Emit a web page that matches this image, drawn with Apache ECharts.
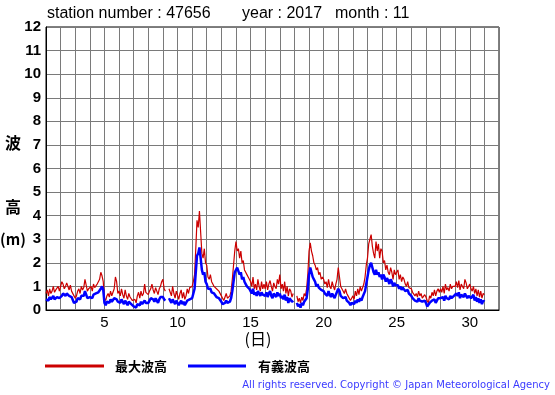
<!DOCTYPE html>
<html><head><meta charset="utf-8">
<script src="https://cdn.jsdelivr.net/npm/echarts@6/dist/echarts.min.js"></script>
<style>html,body{margin:0;padding:0;background:#fff}#c{width:555px;height:395px}</style>
</head><body><div id="c"></div>
<script>
// 2-hourly samples starting Nov 1 00:00 (x = day of month)
const startDay = 1;
const samplesPerDay = 12;
const maxWave = [
0.7,0.85,0.6,0.9,0.7,0.8,1.0,0.75,0.85,0.9,1.0,0.8,
1.0,1.2,1.1,0.9,1.0,1.15,1.0,0.85,1.05,0.8,0.75,0.6,
0.5,0.6,0.8,0.9,0.7,1.0,0.85,0.95,1.3,1.05,0.8,0.9,
0.9,1.0,0.8,1.1,0.95,1.0,1.1,1.2,1.3,1.6,1.45,1.2,
0.5,0.4,0.6,0.7,0.55,0.8,0.6,0.75,0.9,1.4,1.2,0.7,
0.8,0.6,0.9,0.65,0.5,0.85,0.6,0.45,0.7,0.55,0.5,0.4,
0.35,0.45,0.3,0.6,0.75,0.5,0.8,0.6,0.7,1.1,0.75,0.7,
0.65,0.8,0.9,1.1,0.85,0.7,0.95,0.8,0.65,0.9,1.0,1.2,
1.3,0.9,0.8,null,null,0.9,0.75,0.6,1.0,0.7,0.5,0.8,
0.8,0.45,0.7,0.85,0.5,0.75,0.45,0.6,0.9,0.7,0.95,1.0,
1.0,1.2,1.5,2.6,3.8,3.5,4.2,3.3,2.4,2.2,2.6,2.0,
1.9,1.4,1.3,1.5,1.2,1.1,1.0,1.05,0.9,0.85,0.8,0.75,
0.6,0.5,0.4,0.55,0.7,0.5,0.45,0.6,0.8,1.3,1.9,2.5,
2.9,2.5,2.6,2.2,2.5,2.0,2.1,1.7,1.6,1.5,1.4,1.3,
1.2,1.0,1.4,0.9,1.1,0.85,1.3,1.0,0.8,1.2,0.9,1.1,
0.9,1.2,0.85,1.1,1.25,1.0,0.8,1.15,1.0,0.9,1.3,1.1,
1.5,0.9,1.1,0.8,1.2,0.7,1.0,0.6,0.9,0.8,0.55,0.7,
null,null,0.6,0.35,0.5,0.3,0.55,0.4,0.7,0.6,0.9,1.5,
2.5,2.85,2.5,2.3,2.0,1.9,1.7,1.8,1.5,1.6,1.3,1.4,
1.3,1.1,1.2,0.95,1.3,1.0,0.9,1.2,1.0,0.85,1.1,1.3,
1.8,1.4,1.0,0.9,0.85,0.7,0.9,0.7,0.6,0.55,0.4,0.5,
0.6,0.45,0.8,0.6,0.9,0.65,1.0,0.8,0.95,1.1,1.4,1.9,
2.2,2.8,3.0,3.2,2.7,2.4,2.2,2.9,2.5,2.8,2.2,2.6,
2.5,2.0,2.1,1.7,1.9,1.6,1.5,1.8,1.6,1.3,1.7,1.5,
1.6,1.7,1.3,1.5,1.2,1.4,1.3,1.1,1.0,1.2,0.95,0.9,
0.9,0.75,0.8,0.6,0.7,0.55,0.8,0.6,0.7,0.5,0.55,0.65,
0.55,0.4,0.3,0.6,0.5,0.75,0.6,0.85,0.6,0.8,0.9,0.75,
0.9,0.75,1.0,0.7,1.1,0.85,0.95,0.8,1.1,0.9,1.0,1.05,
1.0,1.2,0.95,1.25,0.85,1.1,1.0,0.9,1.3,1.15,0.9,1.0,
1.1,0.9,0.8,1.0,0.7,0.9,0.6,0.85,0.55,0.8,0.5,0.7,
0.65];
const sigWave = [
0.45,0.5,0.4,0.55,0.45,0.5,0.6,0.45,0.5,0.55,0.6,0.5,
0.55,0.6,0.7,0.65,0.6,0.7,0.75,0.6,0.65,0.55,0.5,0.3,
0.25,0.35,0.5,0.55,0.45,0.6,0.55,0.6,0.8,0.65,0.5,0.55,
0.55,0.6,0.5,0.65,0.6,0.7,0.65,0.75,0.8,0.9,1.0,0.85,
0.3,0.2,0.35,0.4,0.3,0.45,0.35,0.4,0.5,0.55,0.45,0.35,
0.4,0.3,0.45,0.35,0.25,0.4,0.3,0.2,0.35,0.3,0.25,0.2,
0.15,0.2,0.1,0.25,0.3,0.2,0.35,0.25,0.3,0.4,0.3,0.35,
0.3,0.4,0.5,0.55,0.45,0.35,0.5,0.4,0.3,0.45,0.55,0.6,
0.55,0.45,0.4,null,null,0.5,0.4,0.3,0.45,0.35,0.25,0.4,
0.35,0.2,0.3,0.4,0.25,0.35,0.2,0.3,0.4,0.35,0.45,0.5,
0.5,0.7,0.9,1.6,2.3,2.4,2.65,2.2,1.7,1.5,1.6,1.2,
1.1,0.9,0.85,0.9,0.75,0.8,0.7,0.65,0.55,0.6,0.5,0.45,
0.35,0.25,0.2,0.3,0.4,0.3,0.25,0.35,0.5,0.8,1.2,1.6,
1.6,1.8,1.75,1.5,1.6,1.3,1.4,1.2,1.1,1.0,1.05,0.9,
0.8,0.7,0.9,0.65,0.75,0.6,0.8,0.7,0.6,0.75,0.65,0.7,
0.6,0.75,0.55,0.7,0.8,0.6,0.5,0.7,0.65,0.55,0.75,0.6,
0.7,0.5,0.6,0.45,0.65,0.4,0.55,0.3,0.5,0.45,0.35,0.4,
null,null,0.3,0.15,0.25,0.1,0.3,0.2,0.35,0.3,0.5,0.9,
1.5,1.8,1.6,1.4,1.3,1.2,1.0,1.1,0.95,1.0,0.85,0.9,
0.8,0.7,0.75,0.6,0.8,0.65,0.55,0.7,0.6,0.5,0.65,0.7,
0.9,0.8,0.6,0.55,0.5,0.45,0.55,0.4,0.35,0.3,0.2,0.3,
0.35,0.25,0.4,0.3,0.45,0.35,0.5,0.4,0.55,0.6,0.8,1.1,
1.4,1.7,1.9,2.0,1.8,1.6,1.5,1.7,1.5,1.6,1.4,1.5,
1.3,1.5,1.4,1.2,1.35,1.25,1.1,1.3,1.2,1.0,1.15,1.05,
1.0,1.05,0.9,1.0,0.85,0.95,0.9,0.8,0.75,0.85,0.7,0.65,
0.6,0.5,0.55,0.4,0.45,0.35,0.5,0.4,0.45,0.35,0.3,0.4,
0.3,0.15,0.1,0.3,0.25,0.4,0.35,0.45,0.3,0.4,0.5,0.45,
0.5,0.45,0.55,0.4,0.6,0.5,0.55,0.45,0.6,0.5,0.55,0.6,
0.55,0.7,0.6,0.75,0.5,0.65,0.6,0.55,0.7,0.65,0.5,0.6,
0.6,0.5,0.45,0.65,0.4,0.55,0.35,0.5,0.3,0.45,0.25,0.4,
0.35];
const xTickLabels = [5, 10, 15, 20, 25, 30];
const seriesNames = ['最大波高', '有義波高'];
const titleParts = ['station number : 47656', 'year : 2017', 'month : 11'];

const toPairs = arr => arr.map((v, i) => [startDay + i / samplesPerDay, v]);

const chart = echarts.init(document.getElementById('c'), null, {renderer: 'canvas'});
const latin = '"Liberation Sans", Arial, sans-serif';
const cjk = '"Noto Sans CJK JP", "Noto Sans CJK SC", sans-serif';
chart.setOption({
  animation: false,
  backgroundColor: '#fff',
  grid: {left: 46, top: 27, width: 453, height: 283, show: true, borderColor: '#000', borderWidth: 1, backgroundColor: 'transparent'},
  xAxis: {
    type: 'value', min: 1, max: 32, interval: 1,
    axisLine: {show: true, lineStyle: {color: '#000', width: 1}},
    axisTick: {show: false},
    splitLine: {show: true, lineStyle: {color: '#7a7a7a', width: 1}},
    axisLabel: {
      color: '#000', fontSize: 15, fontFamily: latin, margin: 5,
      formatter: v => xTickLabels.includes(v) ? String(v) : ''
    }
  },
  yAxis: {
    type: 'value', min: 0, max: 12, interval: 1,
    axisLine: {show: true, lineStyle: {color: '#000', width: 1}},
    axisTick: {show: false},
    splitLine: {show: true, lineStyle: {color: '#7a7a7a', width: 1}},
    axisLabel: {color: '#000', fontSize: 15, fontWeight: 'bold', fontFamily: latin, margin: 5}
  },
  series: [
    {name: seriesNames[0], type: 'line', data: toPairs(maxWave), showSymbol: false, connectNulls: false,
     lineStyle: {color: '#cc0000', width: 1.2}, itemStyle: {color: '#cc0000'}, z: 2},
    {name: seriesNames[1], type: 'line', data: toPairs(sigWave), showSymbol: false, connectNulls: false,
     lineStyle: {color: '#0000ff', width: 2.5}, itemStyle: {color: '#0000ff'}, z: 3}
  ],
  graphic: [
    {type: 'text', left: 47, top: 6, style: {text: titleParts[0], font: '16px ' + latin, fill: '#000'}},
    {type: 'text', left: 242, top: 6, style: {text: titleParts[1], font: '16px ' + latin, fill: '#000'}},
    {type: 'text', left: 335, top: 6, style: {text: titleParts[2], font: '16px ' + latin, fill: '#000'}},
    {type: 'text', x: 13, y: 143, style: {text: '波', font: 'bold 16px ' + cjk, fill: '#000', align: 'center', verticalAlign: 'middle'}},
    {type: 'text', x: 13, y: 207, style: {text: '高', font: 'bold 16px ' + cjk, fill: '#000', align: 'center', verticalAlign: 'middle'}},
    {type: 'text', x: 13, y: 239, style: {text: '(m)', font: 'bold 15px ' + cjk, fill: '#000', align: 'center', verticalAlign: 'middle'}},
    {type: 'text', x: 258, y: 339, style: {text: '(日)', font: '16px ' + cjk, fill: '#000', align: 'center', verticalAlign: 'middle'}},
    {type: 'line', shape: {x1: 45, y1: 366, x2: 104, y2: 366}, style: {stroke: '#cc0000', lineWidth: 3}},
    {type: 'text', x: 115, y: 366, style: {text: seriesNames[0], font: 'bold 13px ' + cjk, fill: '#000', verticalAlign: 'middle'}},
    {type: 'line', shape: {x1: 188, y1: 366, x2: 246, y2: 366}, style: {stroke: '#0000ff', lineWidth: 3}},
    {type: 'text', x: 258, y: 366, style: {text: seriesNames[1], font: 'bold 13px ' + cjk, fill: '#000', verticalAlign: 'middle'}},
    {type: 'text', right: 5, top: 380, style: {text: 'All rights reserved. Copyright © Japan Meteorological Agency', font: '10px "DejaVu Sans", sans-serif', fill: '#3a3aff'}}
  ]
});
</script></body></html>
